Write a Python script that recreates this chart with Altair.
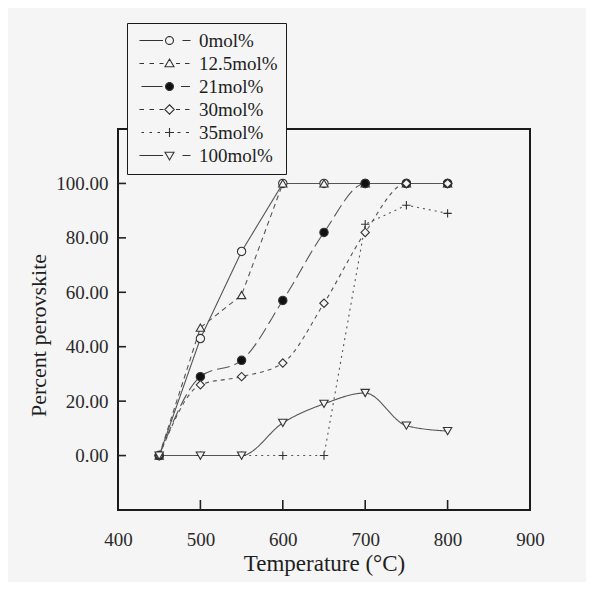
import math
import altair as alt
import pandas as pd

# ---------------- data ----------------
temps = [450, 500, 550, 600, 650, 700, 750, 800]
series = ["0mol%", "12.5mol%", "21mol%", "30mol%", "35mol%", "100mol%"]
v_0 = [0, 43, 75, 100, 100, 100, 100, 100]
v_125 = [0, 47, 59, 100, 100, 100, 100, 100]
v_21 = [0, 29, 35, 57, 82, 100, 100, 100]
v_30 = [0, 26, 29, 34, 56, 82, 100, 100]
v_35 = [0, 0, 0, 0, 0, 85, 92, 89]
v_100 = [0, 0, 0, 12, 19, 23, 11, 9]

x_labels = [400, 500, 600, 700, 800, 900]
x_inner_ticks = [500, 600, 700, 800]
y_ticks = [0, 20, 40, 60, 80, 100]

curved = ["21mol%", "30mol%", "100mol%"]

rows = []
for s, vals in zip(series, [v_0, v_125, v_21, v_30, v_35, v_100]):
    for t, v in zip(temps, vals):
        rows.append({"series": s, "temp": t, "pct": v, "curved": s in curved})
df = pd.DataFrame(rows)
xt = pd.DataFrame({"t": x_inner_ticks})
yt = pd.DataFrame({"v": y_ticks})

FONT = "Liberation Serif"
INK = "#2a2a2a"
W, H = 412, 381
BG = "#f5f5f5"

# ---------------- styles ----------------
plus_path = "M-1,0H1M0,-1V1"
point_shapes = ["circle", "triangle-up", "circle", "diamond", plus_path, "triangle-down"]
point_fills = [BG, BG, "#111111", BG, BG, BG]
dashes = [[1, 0], [5, 4], [13, 5], [4, 4], [2, 4], [1, 0]]


def poly(cx, r, n=14):
    pts = []
    for i in range(n):
        a = 2 * math.pi * i / n
        pts.append(f"{cx + r * math.cos(a):.3f},{r * math.sin(a):.3f}")
    return "M" + "L".join(pts) + "Z"


def segs(pairs):
    return "".join(f"M{a},0H{b}" for a, b in pairs)


mk_circle = poly(5, 0.8)
mk_tri_up = "M5,-0.9L5.9,0.65L4.1,0.65Z"
mk_diamond = "M5,-0.95L5.95,0L5,0.95L4.05,0Z"
mk_plus = "M4.1,0H5.9M5,-0.9V0.9"
mk_tri_dn = "M4.1,-0.65L5.9,-0.65L5,0.9Z"

legend_paths = [
    segs([(-1, 3.7), (7.6, 9.2)]) + mk_circle,
    segs([(-1, -0.1), (1.0, 1.9), (3.0, 3.8), (6.3, 7.1), (8.1, 9.0)]) + mk_tri_up,
    segs([(-0.6, 3.6), (7.3, 9.1)]) + mk_circle,
    segs([(-1, -0.1), (1.0, 1.9), (3.0, 3.8), (6.3, 7.1), (8.1, 9.0)]) + mk_diamond,
    segs([(-0.6, -0.1), (1.0, 1.5), (2.6, 3.1), (6.6, 7.2), (8.3, 8.9)]) + mk_plus,
    segs([(-1, 3.7), (7.6, 9.2)]) + mk_tri_dn,
]
legend_fills = ["transparent", "transparent", "#111111", "transparent", "transparent", "transparent"]

x_enc = alt.X(
    "temp:Q",
    scale=alt.Scale(domain=[400, 900], nice=False, zero=False),
    axis=alt.Axis(
        values=x_labels, format="d", title="Temperature (°C)", ticks=False,
        domain=False, grid=False, labelPadding=20, labelFont=FONT, labelFontSize=19,
        labelColor=INK, titleFont=FONT, titleFontSize=23, titleFontWeight="normal",
        titleColor="#1e1e1e", titlePadding=3, labelFlush=False,
    ),
)
y_enc = alt.Y(
    "pct:Q",
    scale=alt.Scale(domain=[-20, 120], nice=False, zero=False),
    axis=alt.Axis(
        values=y_ticks, format=".2f", title="Percent perovskite", ticks=False,
        domain=False, grid=False, labelPadding=10, labelFont=FONT, labelFontSize=19,
        labelColor=INK, titleFont=FONT, titleFontSize=22, titleFontWeight="normal",
        titleColor="#1e1e1e", titlePadding=5, titleY=206,
    ),
)

dash_enc = alt.StrokeDash("series:N", scale=alt.Scale(domain=series, range=dashes), legend=None)

lines_curved = alt.Chart(df).transform_filter(alt.datum.curved).mark_line(
    interpolate="monotone", strokeWidth=1.1, color="#555555"
).encode(x=x_enc, y=y_enc, strokeDash=dash_enc, detail="series:N")

lines_straight = alt.Chart(df).transform_filter(~alt.datum.curved).mark_line(
    strokeWidth=1.1, color="#555555"
).encode(x="temp:Q", y="pct:Q", strokeDash=dash_enc, detail="series:N")

points = alt.Chart(df).mark_point(size=70, strokeWidth=1.1, stroke="#333333", opacity=1).encode(
    x="temp:Q",
    y="pct:Q",
    shape=alt.Shape("series:N", scale=alt.Scale(domain=series, range=point_shapes), legend=None),
    fill=alt.Fill("series:N", scale=alt.Scale(domain=series, range=point_fills), legend=None),
)

xticks = alt.Chart(xt).mark_rule(color="#222222", strokeWidth=1.6).encode(
    x="t:Q", y=alt.value(H), y2=alt.value(H - 10)
)
yticks = alt.Chart(yt).mark_rule(color="#222222", strokeWidth=1.6).encode(
    y="v:Q", x=alt.value(0), x2=alt.value(8)
)

legend_spec = alt.Legend(
    orient="none", legendX=9, legendY=-106, title=None, padding=8,
    labelOffset=45, rowPadding=3, symbolSize=100, symbolStrokeWidth=1.1,
    labelFont=FONT, labelFontSize=19, labelColor="#1e1e1e",
    strokeColor="#1a1a1a", fillColor=BG,
)

legend_layer = alt.Chart(df).transform_filter(alt.datum.pct > 1000).mark_point(
    size=100, strokeWidth=1.1, stroke="#333333", opacity=1
).encode(
    x="temp:Q",
    y="pct:Q",
    shape=alt.Shape("series:N", scale=alt.Scale(domain=series, range=legend_paths), legend=legend_spec),
    fill=alt.Fill("series:N", scale=alt.Scale(domain=series, range=legend_fills), legend=legend_spec),
)

chart = (
    alt.layer(lines_curved, lines_straight, points, xticks, yticks, legend_layer)
    .resolve_scale(shape="independent", fill="independent")
    .properties(
        width=W, height=H,
        autosize=alt.AutoSizeParams(type="none"),
        padding={"left": 110, "top": 121, "right": 56, "bottom": 72},
        background=BG,
    )
    .configure_view(stroke="#1a1a1a", strokeWidth=2, fill=BG)
)

chart.save("out.html", embed_options={"renderer": "svg", "actions": False})
